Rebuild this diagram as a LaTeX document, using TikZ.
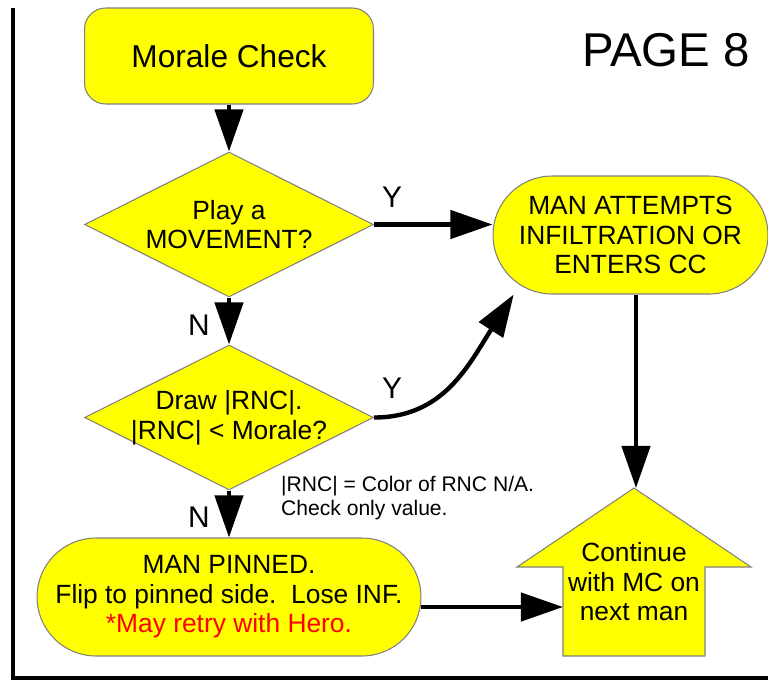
\documentclass[tikz,border=0pt]{standalone}
\usepackage{fontspec}
\setmainfont{Liberation Sans}
\usetikzlibrary{shapes.geometric,arrows.meta}
\definecolor{boxyellow}{RGB}{255,255,0}
\begin{document}
\begin{tikzpicture}[x=0.02cm,y=-0.02cm,
    box/.style={fill=boxyellow,draw=gray,line width=0.6pt,align=center,
      font=\fontsize{15}{16.8}\selectfont},
    ask/.style={box,diamond,shape aspect=2,inner sep=-3pt,
      minimum width=5.78cm,minimum height=2.9cm},
    term/.style={box,rectangle,rounded corners=1.18cm,minimum height=2.36cm},
    flow/.style={line width=2.5pt,-{Triangle[length=24pt,width=16pt]}},
    lbl/.style={font=\fontsize{17}{20}\selectfont}]
  \useasboundingbox (0,0) rectangle (768,681);
  \draw[line width=1.8pt] (13,8) -- (13,678) -- (768,678);
  \node[font=\fontsize{27}{31}\selectfont] (page) at (666,50) {PAGE 8};
  \node[box,rounded corners=12pt,minimum width=5.78cm,minimum height=1.92cm,
    font=\fontsize{18}{21}\selectfont] (check) at (229,56) {Morale Check};
  \node[ask] (move) at (229,224.5) {Play a\\MOVEMENT?};
  \node[ask] (draw) at (229,417.5) {Draw |RNC|.\\|RNC| < Morale?};
  \node[term,minimum width=5.5cm] (attempt) at (630.5,235)
    {MAN ATTEMPTS\\INFILTRATION OR\\ENTERS CC};
  \node[term,minimum width=7.68cm] (pin) at (229,597)
    {MAN PINNED.\\Flip to pinned side.\ \ Lose INF.\\\textcolor{red}{*May retry with Hero.}};
  \node[anchor=west,align=left,font=\fontsize{12}{13.2}\selectfont] (note) at (275,498)
    {|RNC| = Color of RNC N/A.\\Check only value.};
  % up arrow with the last step
  \draw[fill=boxyellow,draw=gray,line width=0.6pt]
    (634,488) -- (751,567) -- (705,567) -- (705,656) --
    (563,656) -- (563,567) -- (517,567) -- cycle;
  \node[align=center,font=\fontsize{15}{16.8}\selectfont] (next) at (634,582)
    {Continue\\with MC on\\next man};
  \coordinate (nexttip) at (636,488);
  \coordinate (nextleft) at (563,607);
  % connectors
  \draw[flow] (check) -- (move);
  \draw[flow] (move.east) -- (move.east -| attempt.west);
  \node[lbl] (yes1) at (392,197) {Y};
  \draw[flow] (move) -- (draw);
  \node[lbl] (no1) at (199,325) {N};
  \draw[flow] (draw.east) .. controls +(70,0) and +(-45,70) .. (attempt.207);
  \node[lbl] (yes2) at (392,388) {Y};
  \draw[flow] (draw) -- (pin);
  \node[lbl] (no2) at (199,517) {N};
  \draw[flow] (pin.east |- nextleft) -- (nextleft);
  \draw[flow] (nexttip |- attempt.south) -- (nexttip);
\end{tikzpicture}
\end{document}
